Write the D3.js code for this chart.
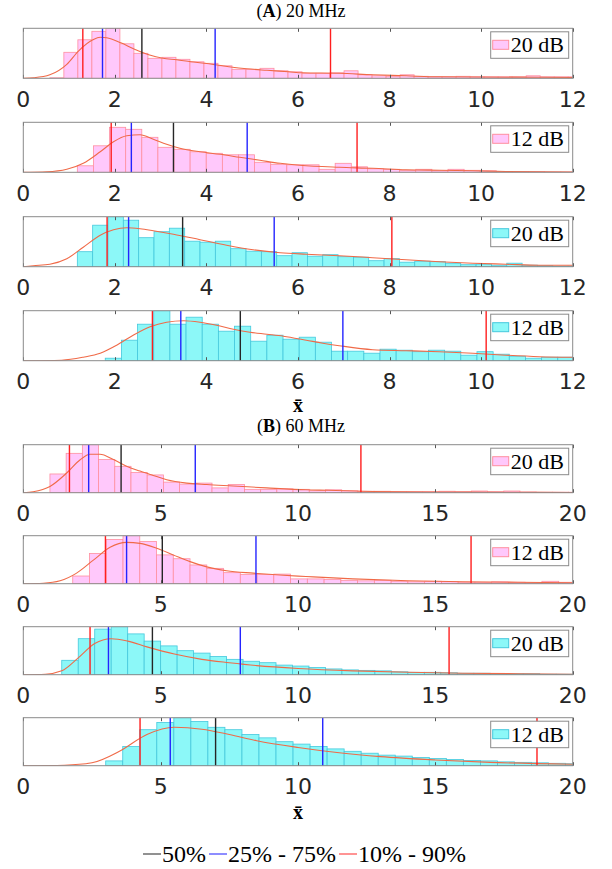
<!DOCTYPE html>
<meta charset="utf-8">
<style>
    body { margin: 0; background: #fff; }
    svg { display: block; }
    .tick-label { font: 22px "DejaVu Sans", sans-serif; fill: #262626; }
    .box { fill: none; stroke: #8a8a8a; stroke-width: 1; }
    .tick { stroke: #555; stroke-width: 1; }
    .fit { fill: none; stroke: #f06a48; stroke-width: 1.1; }
    .serif { font-family: "Liberation Serif", "DejaVu Serif", serif; fill: #000; }
</style>
<body>
<script src="https://d3js.org/d3.v7.min.js"></script>
<script>

    // (A) 20 MHz, x from 0 to 12 -- bin heights relative to the panel height
    var a1Start = 0.58, a1Width = 0.306;
    var a1Bins = [0.01,0.52,0.77,0.94,1.0,0.69,0.50,0.40,0.42,0.38,0.33,0.30,0.25,0.18,0.18,0.20,0.15,0.13,0.10,0.10,
                  0.11,0.15,0.07,0.05,0.04,0.07,0.04,0.03,0.03,0.04,0.03,0.03,0.03,0.03,0.05,0.03,0.03,0.03];
    var a1Fit = [[0,0],[0.22,0.01],[0.58,0.07],[0.95,0.28],[1.21,0.55],[1.52,0.77],[1.68,0.82],[1.82,0.81],[2.13,0.71],
                 [2.43,0.58],[2.74,0.47],[3.05,0.40],[3.35,0.37],[3.66,0.33],[3.96,0.30],[4.27,0.26],[4.57,0.22],[4.88,0.19],
                 [5.32,0.16],[5.80,0.13],[6.10,0.11],[6.90,0.10],[7.63,0.07],[8.36,0.05],[9.08,0.03],[11.3,0.02],[12,0.015]];
    var a1Quant = [1.30, 1.73, 2.59, 4.19, 6.71];

    var a2Start = 1.18, a2Width = 0.352;
    var a2Bins = [0.13,0.53,0.90,0.86,0.70,0.50,0.46,0.41,0.38,0.35,0.35,0.20,0.16,0.15,0.15,0.06,0.18,0.11,0.07,0.06,
                  0.04,0.06,0.03,0.06,0.04,0.03,0.01,0.01,0.01,0.005,0.005];
    var a2Fit = [[0,0],[0.51,0.01],[0.95,0.06],[1.31,0.18],[1.68,0.41],[1.97,0.61],[2.26,0.73],[2.55,0.75],[2.84,0.66],
                 [3.13,0.56],[3.42,0.48],[3.86,0.41],[4.30,0.36],[4.73,0.30],[5.17,0.24],[5.61,0.18],[6.04,0.14],[6.90,0.10],
                 [7.63,0.08],[8.36,0.05],[9.09,0.04],[9.82,0.03],[10.54,0.015],[12,0.005]];
    var a2Quant = [1.92, 2.36, 3.28, 4.89, 7.29];

    var a3Start = 1.18, a3Width = 0.335;
    var a3Bins = [0.30,0.83,1.0,0.93,0.58,0.70,0.77,0.51,0.49,0.51,0.36,0.31,0.30,0.22,0.28,0.21,0.24,0.20,0.19,0.12,
                  0.16,0.09,0.11,0.10,0.07,0.04,0.05,0.03,0.07,0.03,0.02,0.01,0.01];
    var a3Fit = [[0,0],[0.22,0.02],[0.58,0.05],[0.95,0.16],[1.31,0.39],[1.68,0.63],[1.97,0.74],[2.26,0.78],[2.55,0.76],
                 [2.84,0.72],[3.28,0.65],[3.86,0.54],[4.44,0.43],[5.02,0.34],[5.61,0.28],[6.18,0.25],[6.90,0.22],[7.63,0.18],
                 [8.36,0.14],[9.09,0.10],[9.82,0.07],[10.54,0.05],[11.27,0.03],[12,0.03]];
    var a3Quant = [1.83, 2.30, 3.48, 5.48, 8.05];

    var a4Start = 1.79, a4Width = 0.353;
    var a4Bins = [0.05,0.41,0.73,1.0,0.73,0.87,0.73,0.59,0.69,0.39,0.51,0.43,0.47,0.37,0.19,0.19,0.15,0.23,0.21,0.18,
                  0.21,0.19,0.11,0.18,0.13,0.09,0.05,0.07,0.07];
    var a4Fit = [[0,0],[0.84,0.01],[1.31,0.07],[1.68,0.15],[2.04,0.31],[2.40,0.51],[2.77,0.68],[3.13,0.77],[3.50,0.80],
                 [3.86,0.77],[4.22,0.71],[4.59,0.63],[4.95,0.57],[5.32,0.53],[5.68,0.49],[6.18,0.41],[6.54,0.35],[6.90,0.30],
                 [7.63,0.22],[8.36,0.20],[9.09,0.18],[9.82,0.15],[10.54,0.11],[11.27,0.08],[12,0.07]];
    var a4Quant = [2.82, 3.44, 4.74, 6.98, 10.11];

    // (B) 60 MHz, x from 0 to 20
    var b1Start = 0.97, b1Width = 0.59;
    var b1Bins = [0.39,0.82,1.0,0.69,0.55,0.42,0.37,0.22,0.18,0.20,0.10,0.17,0.07,0.07,0.08,0.07,0.04,0.06,0.04,0.03,
                  0.03,0.02,0.02,0.02,0.03,0.02,0.035,0.02,0.035,0.015,0.01,0.01,0.01];
    var b1Fit = [[0,0],[0.36,0.02],[0.97,0.13],[1.58,0.41],[2.06,0.68],[2.43,0.80],[2.79,0.80],[3.28,0.69],[3.76,0.55],
                 [4.25,0.45],[4.73,0.36],[5.22,0.27],[5.95,0.20],[6.68,0.17],[7.64,0.14],[8.86,0.10],[10.29,0.06],[11.1,0.05],
                 [12.72,0.025],[15.14,0.015],[17.57,0.01],[20,0.005]];
    var b1Quant = [1.68, 2.38, 3.56, 6.26, 12.29];

    var b2Start = 1.80, b2Width = 0.61;
    var b2Bins = [0.16,0.63,0.92,1.0,0.88,0.60,0.52,0.39,0.32,0.23,0.19,0.19,0.20,0.10,0.10,0.09,0.07,0.06,0.07,0.05,
                  0.04,0.05,0.04,0.03,0.03,0.04,0.03,0.02,0.05,0.03];
    var b2Fit = [[0,0],[0.73,0.01],[1.34,0.06],[1.94,0.22],[2.55,0.49],[3.16,0.76],[3.76,0.86],[4.25,0.84],[4.86,0.74],
                 [5.46,0.60],[6.07,0.46],[6.68,0.35],[7.40,0.27],[8.37,0.22],[9.34,0.18],[10.29,0.15],[12,0.10],[14,0.06],
                 [16,0.04],[18,0.03],[20,0.02]];
    var b2Quant = [2.99, 3.76, 5.06, 8.47, 16.3];

    var b3Start = 1.40, b3Width = 0.60;
    var b3Bins = [0.30,0.75,0.95,1.0,0.85,0.70,0.60,0.50,0.45,0.38,0.32,0.28,0.25,0.20,0.18,0.15,0.12,0.10,0.09,0.08,
                  0.06,0.05,0.05,0.04,0.03,0.03,0.02,0.02,0.02,0.01,0.01];
    var b3Fit = [[0,0],[0.8,0.01],[1.4,0.08],[2.0,0.35],[2.6,0.65],[3.2,0.75],[3.8,0.70],[4.5,0.58],[5.5,0.43],[6.5,0.32],
                 [7.5,0.25],[8.5,0.19],[10,0.13],[12,0.08],[14,0.05],[16,0.03],[18,0.02],[20,0.01]];
    var b3Quant = [2.43, 3.10, 4.70, 7.90, 15.5];

    var b4Start = 3.00, b4Width = 0.62;
    var b4Bins = [0.10,0.40,0.75,0.90,1.0,0.92,0.80,0.75,0.65,0.58,0.50,0.45,0.40,0.35,0.30,0.26,0.22,0.20,0.17,0.15,
                  0.13,0.11,0.10,0.08,0.07,0.06,0.05,0.04];
    var b4Fit = [[0,0],[1.5,0.01],[2.5,0.06],[3.5,0.30],[4.5,0.65],[5.5,0.80],[6.5,0.76],[7.5,0.65],[8.5,0.52],[10,0.38],
                 [11.5,0.27],[13,0.19],[15,0.12],[17,0.07],[20,0.03]];
    var b4Quant = [4.25, 5.35, 7.00, 10.90, 18.70];

    var ticksA = [0, 2, 4, 6, 8, 10, 12];
    var ticksB = [0, 5, 10, 15, 20];

    var pink = {fill: "#ffc8fb", edge: "#ff8f9f"},
        cyan = {fill: "#8cf8f8", edge: "#45c8dc"};

    // colours of the 10, 25, 50, 75, 90 % markers
    var qColor = ["#ff1f1f", "#2424ff", "#262626", "#2424ff", "#ff1f1f"];

    var left = 23.3, right = 572.7;

    var svg = d3.select("body").append("svg")
        .attr("width", 612)
        .attr("height", 869);

    var panels = [
        {top: 28.3,  h: 50, max: 12, ticks: ticksA, start: a1Start, width: a1Width, bins: a1Bins, fit: a1Fit, q: a1Quant, col: pink, label: "20 dB"},
        {top: 122.3, h: 50, max: 12, ticks: ticksA, start: a2Start, width: a2Width, bins: a2Bins, fit: a2Fit, q: a2Quant, col: pink, label: "12 dB"},
        {top: 216.7, h: 50, max: 12, ticks: ticksA, start: a3Start, width: a3Width, bins: a3Bins, fit: a3Fit, q: a3Quant, col: cyan, label: "20 dB"},
        {top: 310.7, h: 50, max: 12, ticks: ticksA, start: a4Start, width: a4Width, bins: a4Bins, fit: a4Fit, q: a4Quant, col: cyan, label: "12 dB"},
        {top: 444.7, h: 48, max: 20, ticks: ticksB, start: b1Start, width: b1Width, bins: b1Bins, fit: b1Fit, q: b1Quant, col: pink, label: "20 dB"},
        {top: 535.7, h: 48, max: 20, ticks: ticksB, start: b2Start, width: b2Width, bins: b2Bins, fit: b2Fit, q: b2Quant, col: pink, label: "12 dB"},
        {top: 626.7, h: 48, max: 20, ticks: ticksB, start: b3Start, width: b3Width, bins: b3Bins, fit: b3Fit, q: b3Quant, col: cyan, label: "20 dB"},
        {top: 717.7, h: 48, max: 20, ticks: ticksB, start: b4Start, width: b4Width, bins: b4Bins, fit: b4Fit, q: b4Quant, col: cyan, label: "12 dB"}
    ];

    panels.forEach(function(p, i) {
        var x = d3.scaleLinear().domain([0, p.max]).range([left, right]);
        var y = d3.scaleLinear().domain([0, 1]).range([p.top + p.h, p.top]);
        var g = svg.append("g");

        g.append("clipPath").attr("id", "clip" + i)
            .append("rect")
            .attr("x", left).attr("y", p.top)
            .attr("width", right - left).attr("height", p.h);

        var inner = g.append("g").attr("clip-path", "url(#clip" + i + ")");

        inner.selectAll("rect.bar")
            .data(p.bins)
            .enter().append("rect")
            .attr("class", "bar")
            .attr("x", function(d, k) { return x(p.start + k * p.width); })
            .attr("width", function(d, k) { return x(p.start + (k + 1) * p.width) - x(p.start + k * p.width); })
            .attr("y", function(d) { return y(d); })
            .attr("height", function(d) { return y(0) - y(d); })
            .style("fill", p.col.fill)
            .style("stroke", p.col.edge)
            .style("stroke-width", 0.8);

        inner.append("path")
            .datum(p.fit)
            .attr("class", "fit")
            .attr("d", d3.line()
                .x(function(d) { return x(d[0]); })
                .y(function(d) { return y(d[1]); })
                .curve(d3.curveMonotoneX));

        inner.selectAll("line.quant")
            .data(p.q)
            .enter().append("line")
            .attr("class", "quant")
            .attr("x1", function(d) { return x(d); })
            .attr("x2", function(d) { return x(d); })
            .attr("y1", p.top)
            .attr("y2", p.top + p.h)
            .style("stroke", function(d, k) { return qColor[k]; })
            .style("stroke-width", 1.4);

        // tick marks top and bottom
        p.ticks.forEach(function(t) {
            var tx = Math.round(x(t)) + 0.5;
            g.append("line").attr("class", "tick")
                .attr("x1", tx).attr("x2", tx)
                .attr("y1", p.top + p.h).attr("y2", p.top + p.h - 3.5);
            g.append("line").attr("class", "tick")
                .attr("x1", tx).attr("x2", tx)
                .attr("y1", p.top).attr("y2", p.top + 3.5);
            g.append("text").attr("class", "tick-label")
                .attr("x", x(t))
                .attr("y", p.top + p.h + 28.5)
                .attr("text-anchor", "middle")
                .text(t);
        });

        g.append("rect").attr("class", "box")
            .attr("x", left).attr("y", p.top)
            .attr("width", right - left).attr("height", p.h);

        // legend box
        var lg = g.append("g").attr("transform", "translate(" + (right - 82) + "," + (p.top + 3.5) + ")");
        lg.append("rect")
            .attr("width", 78).attr("height", 26.5)
            .style("fill", "#fff").style("stroke", "#8a8a8a");
        lg.append("rect")
            .attr("x", 2).attr("y", 8.5)
            .attr("width", 16).attr("height", 9)
            .style("fill", p.col.fill).style("stroke", p.col.edge);
        lg.append("text").attr("class", "serif")
            .attr("x", 20).attr("y", 20.5)
            .style("font-size", "22px")
            .text(p.label);
    });

    var mid = (left + right) / 2;

    function title(yy, letter, rest) {
        var t = svg.append("text").attr("class", "serif")
            .attr("x", mid + 3).attr("y", yy)
            .attr("text-anchor", "middle")
            .style("font-size", "18px");
        t.append("tspan").text("(");
        t.append("tspan").style("font-weight", "bold").text(letter);
        t.append("tspan").text(") " + rest);
    }
    title(16.5, "A", "20 MHz");
    title(432, "B", "60 MHz");

    function xbar(yy) {
        svg.append("text").attr("class", "serif")
            .attr("x", mid).attr("y", yy)
            .attr("text-anchor", "middle")
            .style("font-size", "20px")
            .style("font-weight", "bold")
            .text("x\u0304");
    }
    xbar(412);
    xbar(819);

    // bottom legend
    var leg = svg.append("g");
    var items = [{c: "#555", t: "50%"}, {c: "#5050ff", t: "25% - 75%"}, {c: "#ff5a5a", t: "10% - 90%"}];
    var cx = 0;
    items.forEach(function(it) {
        leg.append("line")
            .attr("x1", cx).attr("x2", cx + 18)
            .attr("y1", -8).attr("y2", -8)
            .style("stroke", it.c).style("stroke-width", 1.3);
        var tt = leg.append("text").attr("class", "serif")
            .attr("x", cx + 19).attr("y", 0)
            .style("font-size", "24px")
            .text(it.t);
        cx += 19 + tt.node().getComputedTextLength() + 3;
    });
    leg.attr("transform", "translate(" + (306 - cx / 2) + ",862)");

</script>
